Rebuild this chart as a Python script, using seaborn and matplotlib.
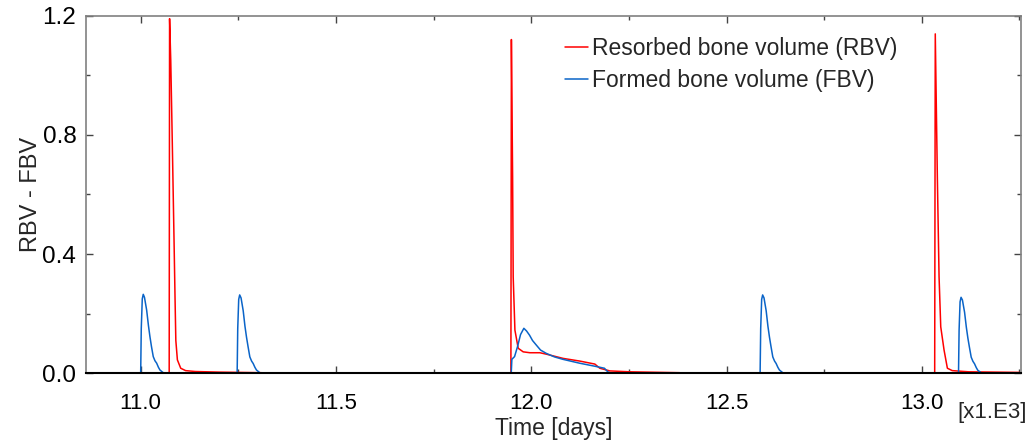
import matplotlib
matplotlib.use("Agg")
import matplotlib.pyplot as plt
import seaborn as sns
import pandas as pd
from matplotlib.ticker import MultipleLocator, FormatStrFormatter
from matplotlib.lines import Line2D

# ---- data (time in days) ----
rbv_time = [10860,
            11073.0, 11074.0, 11077.0, 11081.0, 11085.5, 11088.0, 11090.0, 11094.0,
            11102.5, 11115.0, 11140.0, 11200.0, 11309.0, 11310.0,
            11947.9, 11949.2, 11952.3, 11953.8, 11958.2, 11966.6, 11979.4, 11996.6,
            12022.1, 12039.2, 12081.7, 12124.4, 12162.8, 12175.6, 12201.2, 12252.3,
            12380.0, 12382.0,
            13033.0, 13034.5, 13039.8, 13044.2, 13048.5, 13057.0, 13065.5, 13078.0,
            13120.0, 13250.0]
rbv_value = [0.0,
             0.0, 1.19, 1.05, 0.77, 0.44, 0.25, 0.11, 0.045,
             0.017, 0.009, 0.006, 0.004, 0.002, 0.0,
             0.0, 1.12, 0.66, 0.324, 0.145, 0.084, 0.072, 0.069,
             0.069, 0.064, 0.050, 0.041, 0.031, 0.017, 0.008, 0.005,
             0.002, 0.0,
             0.0, 1.139, 0.66, 0.324, 0.156, 0.078, 0.017, 0.009,
             0.005, 0.003]

fbv_time = [10860,
            11000.0, 11001.5, 11004.1, 11006.6, 11009.7, 11015.3, 11019.9, 11023.7,
            11027.6, 11032.2, 11036.6, 11040.9, 11045.5, 11049.4, 11057.8, 11062.1,
            11247.0, 11248.5, 11251.0, 11253.5, 11257.0, 11262.5, 11267.0, 11271.0,
            11275.0, 11279.5, 11284.0, 11288.0, 11292.5, 11296.5, 11305.0, 11309.0,
            11948.8, 11950.4, 11957.3, 11965.0, 11972.6, 11981.1, 11988.0, 11995.6,
            12003.3, 12012.8, 12023.8, 12038.3, 12059.5, 12080.8, 12123.5, 12161.8,
            12187.4, 12195.9, 12204.6,
            12586.0, 12587.5, 12590.0, 12592.5, 12596.0, 12601.5, 12606.0, 12610.0,
            12614.0, 12618.5, 12623.0, 12627.0, 12631.5, 12635.5, 12644.0, 12648.0,
            13094.0, 13095.5, 13098.0, 13100.5, 13104.0, 13109.5, 13114.0, 13118.0,
            13122.0, 13126.5, 13131.0, 13135.0, 13139.5, 13143.5, 13152.0, 13156.0,
            13250.0]
fbv_value = [0.0,
             0.0, 0.15, 0.25, 0.265, 0.255, 0.212, 0.16, 0.123,
             0.09, 0.056, 0.042, 0.034, 0.02, 0.011, 0.002, 0.0,
             0.0, 0.15, 0.248, 0.263, 0.253, 0.21, 0.158, 0.121,
             0.089, 0.055, 0.041, 0.033, 0.02, 0.011, 0.002, 0.0,
             0.0, 0.047, 0.056, 0.09, 0.13, 0.151, 0.142, 0.128,
             0.11, 0.095, 0.078, 0.067, 0.055, 0.047, 0.034, 0.024,
             0.017, 0.005, 0.0,
             0.0, 0.15, 0.248, 0.263, 0.253, 0.21, 0.158, 0.121,
             0.089, 0.055, 0.041, 0.033, 0.02, 0.011, 0.002, 0.0,
             0.0, 0.145, 0.24, 0.255, 0.246, 0.205, 0.155, 0.118,
             0.087, 0.054, 0.040, 0.032, 0.019, 0.010, 0.002, 0.0,
             0.0]

series_names = ["Resorbed bone volume (RBV)", "Formed bone volume (FBV)"]
series_colors = ["#ff0000", "#0a64c8"]

x_limits = (10.86, 13.254)
y_limits = (0.0, 1.2)

# ---- figure ----
sns.set_style("ticks")
plt.rcParams["font.family"] = ["Liberation Sans", "DejaVu Sans"]

fig = plt.figure(figsize=(10.31, 4.41), dpi=100)
ax = fig.add_axes([86 / 1031, 1 - 373.3 / 441, (1021 - 86) / 1031, (373.3 - 15.7) / 441])

df_r = pd.DataFrame({"t": [v / 1000 for v in rbv_time], "y": rbv_value, "s": series_names[0]})
df_f = pd.DataFrame({"t": [v / 1000 for v in fbv_time], "y": fbv_value, "s": series_names[1]})
df = pd.concat([df_r, df_f], ignore_index=True)

sns.lineplot(data=df, x="t", y="y", hue="s", palette=dict(zip(series_names, series_colors)),
             estimator=None, sort=False, linewidth=1.1, ax=ax, legend=False)

ax.set_xlim(*x_limits)
ax.set_ylim(*y_limits)
ax.xaxis.set_major_locator(MultipleLocator(0.5))
ax.xaxis.set_minor_locator(MultipleLocator(0.25))
ax.yaxis.set_major_locator(MultipleLocator(0.4))
ax.yaxis.set_minor_locator(MultipleLocator(0.2))
ax.xaxis.set_major_formatter(FormatStrFormatter("%.1f"))
ax.yaxis.set_major_formatter(FormatStrFormatter("%.1f"))

ax.tick_params(which="both", direction="in", top=True, right=True, colors="#444444",
               labelcolor="black", width=1.0)
ax.tick_params(axis="y", which="major", labelsize=17.5, pad=7)
ax.tick_params(axis="x", which="major", labelsize=16, pad=14)
ax.tick_params(which="major", length=5)
ax.tick_params(which="minor", length=3)

for side in ["top", "left", "right"]:
    ax.spines[side].set_color("#808080")
    ax.spines[side].set_linewidth(1.2)
ax.spines["bottom"].set_color("black")
ax.spines["bottom"].set_linewidth(1.5)

ax.set_xlabel("Time [days]", fontsize=16.5, labelpad=2)
ax.set_ylabel("RBV - FBV", fontsize=17, labelpad=0)
ax.text(1.0 + 6 / 935, -0.08, "[x1.E3]", transform=ax.transAxes, ha="right", va="top", fontsize=16)

handles = [Line2D([], [], color=c, linewidth=1.1) for c in series_colors]
ax.legend(handles, series_names, loc="upper left", bbox_to_anchor=(0.495, 0.985), frameon=False,
          fontsize=16.5, handlelength=1.0, handletextpad=0.18, labelspacing=0.38, borderaxespad=0.3)

fig.savefig("out.png", dpi=100)
